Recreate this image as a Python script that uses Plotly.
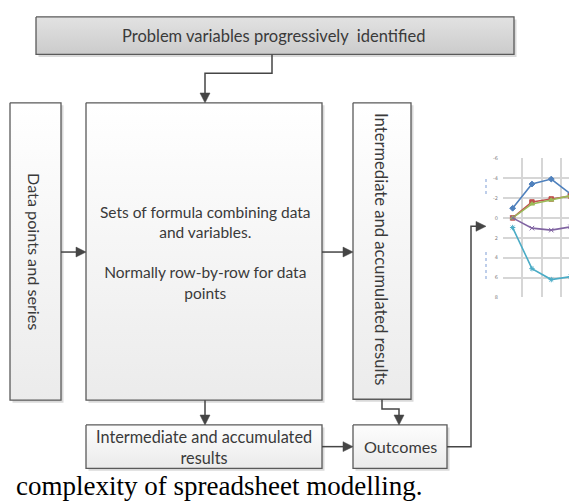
import plotly.graph_objects as go

# ---- mini chart data ----
categories = [0, 1, 2, 3, 4]
blue = [-0.97, -3.4, -3.9, -2.4, -1.5]
red = [0.0, -1.6, -1.9, -2.2, -1.0]
green = [0.0, -1.4, -1.8, -2.2, -2.7]
purple = [0.0, 1.03, 1.23, 0.9, -1.0]
cyan = [0.97, 5.1, 6.2, 5.9, 6.1]
tick_vals = [-6, -4, -2, 0, 2, 4, 6, 8]
tick_labels = ["-6", "-4", "-2", "0", "2", "4", "6", "8"]

# ---- diagram texts ----
top_text = "Problem variables progressively  identified"
left_text = "Data points and series"
mid_text = "Sets of formula combining data<br>and variables.<br><br>Normally row-by-row for data<br>points"
right_text = "Intermediate and accumulated results"
interm_text = "Intermediate and accumulated<br>results"
out_text = "Outcomes"
caption = "complexity of spreadsheet modelling."

# page is offset by the 8px body margin; coordinates below are page pixels
OFF = 8
PW, PH = 577, 502
W, H = PW - OFF, PH - OFF
fig = go.Figure()

FONT = "Lato"
TXT = "#3a3a3a"
BORDER = "#5a5a5a"
CONN = "#454545"

boxes = {
    "top": (36, 514, 14, 52, "#e2e2e2", "#cbcbcb"),
    "left": (10, 61, 101, 402, "#ffffff", "#ebebeb"),
    "mid": (86, 322, 101, 402, "#ffffff", "#ebebeb"),
    "right": (353, 411, 101, 401, "#ffffff", "#ebebeb"),
    "interm": (86, 322, 427, 471, "#fbfbfb", "#e8e8e8"),
    "out": (353, 447, 427, 471, "#fbfbfb", "#e8e8e8"),
}

shapes = []
for k, (x0, x1, y0, y1, c0, c1) in boxes.items():
    shapes.append(dict(type="rect", xref="x", yref="y", x0=x0 + 2.5, x1=x1 + 2.5,
                       y0=y0 + 2.5, y1=y1 + 2.5, fillcolor="#dadada",
                       line=dict(width=0), layer="below"))
    fig.add_trace(go.Scatter(
        x=[x0, x1, x1, x0, x0], y=[y0, y0, y1, y1, y0], mode="lines",
        fill="toself",
        fillgradient=dict(type="vertical", colorscale=[[0, c0], [1, c1]], start=y0, stop=y1),
        line=dict(color=BORDER, width=1.3), hoverinfo="skip", showlegend=False,
        xaxis="x", yaxis="y"))

# connectors (polyline, arrow at the end)
connectors = [
    [(272, 52), (272, 71), (205, 71), (205, 101)],
    [(61, 252), (86, 252)],
    [(322, 252), (353, 252)],
    [(205, 402), (205, 427)],
    [(382, 401), (382, 411), (399, 411), (399, 427)],
    [(322, 449), (353, 449)],
    [(447, 449), (471, 449), (471, 226), (486, 226)],
]
AL, AW = 10, 5
for pts in connectors:
    (xa, ya), (xb, yb) = pts[-2], pts[-1]
    dx = (xb > xa) - (xb < xa)
    dy = (yb > ya) - (yb < ya)
    base = (xb - dx * AL, yb - dy * AL)
    line_pts = pts[:-1] + [base]
    path = "M " + " L ".join(f"{x},{y}" for x, y in line_pts)
    shapes.append(dict(type="path", xref="x", yref="y", path=path,
                       line=dict(color=CONN, width=1.5)))
    if dx != 0:
        tri = f"M {xb},{yb} L {base[0]},{yb - AW} L {base[0]},{yb + AW} Z"
    else:
        tri = f"M {xb},{yb} L {xb - AW},{base[1]} L {xb + AW},{base[1]} Z"
    shapes.append(dict(type="path", xref="x", yref="y", path=tri,
                       fillcolor=CONN, line=dict(color=CONN, width=0.5)))

# faint axis-title marks of the mini chart
shapes.append(dict(type="line", xref="x", yref="y", x0=486, x1=486, y0=178, y1=195,
                   line=dict(color="#a9bfe3", width=1.5, dash="dot")))
shapes.append(dict(type="line", xref="x", yref="y", x0=486, x1=486, y0=252, y1=280,
                   line=dict(color="#a9bfe3", width=1.5, dash="dot")))

ann = []
def txt(x, y, t, size=16.5, angle=0, color=TXT, family=FONT, xanchor="center", yanchor="middle"):
    ann.append(dict(x=x, y=y, xref="x", yref="y", text=t, showarrow=False,
                    textangle=angle, font=dict(family=family, size=size, color=color),
                    xanchor=xanchor, yanchor=yanchor))

txt(273, 33, top_text, size=16.5)
txt(35, 251, left_text, size=16.2, angle=90)
txt(205, 252, mid_text, size=15.5)
txt(381, 249, right_text, size=16.6, angle=90)
txt(204, 449, interm_text, size=16.3)
txt(400, 449, out_text, size=16.2)
txt(14, 489, caption, size=27, color="#000000", family="Liberation Serif", xanchor="left")

# ---- mini chart traces ----
series = [
    (blue, "#4f81bd", "diamond"),
    (red, "#c0504d", "square"),
    (green, "#9bbb59", "triangle-up"),
    (purple, "#8064a2", "x-thin"),
    (cyan, "#4bacc6", "asterisk"),
]
for vals, col, sym in series:
    fig.add_trace(go.Scatter(
        x=categories, y=vals, mode="lines+markers",
        line=dict(color=col, width=1.6),
        marker=dict(color=col, size=4.5, symbol=sym, line=dict(color=col, width=1)),
        xaxis="x2", yaxis="y2", showlegend=False, hoverinfo="skip"))

fig.update_layout(
    width=W, height=H, margin=dict(l=0, r=0, t=0, b=0),
    paper_bgcolor="white", plot_bgcolor="rgba(0,0,0,0)",
    showlegend=False,
    xaxis=dict(range=[OFF, PW], visible=False, domain=[0, 1], fixedrange=True),
    yaxis=dict(range=[PH, OFF], visible=False, domain=[0, 1], fixedrange=True),
    xaxis2=dict(domain=[(503 - OFF) / W, 1], anchor="y2", range=[-0.5, -0.5 + 74 / 19.3],
                tick0=-0.5, dtick=1, showticklabels=False, showgrid=True,
                gridcolor="#d6d6d6", gridwidth=1.8, zeroline=False, ticks=""),
    yaxis2=dict(domain=[1 - (298 - OFF) / H, 1 - (157 - OFF) / H], anchor="x2", range=[8, -6],
                tickvals=tick_vals, ticktext=tick_labels, showgrid=True,
                gridcolor="#d6d6d6", gridwidth=1.8, zeroline=False, ticks="",
                tickfont=dict(size=5, color="#808080", family="DejaVu Sans"),
                ticklabelstandoff=4),
    shapes=shapes, annotations=ann,
)

fig.write_html("out.html")
